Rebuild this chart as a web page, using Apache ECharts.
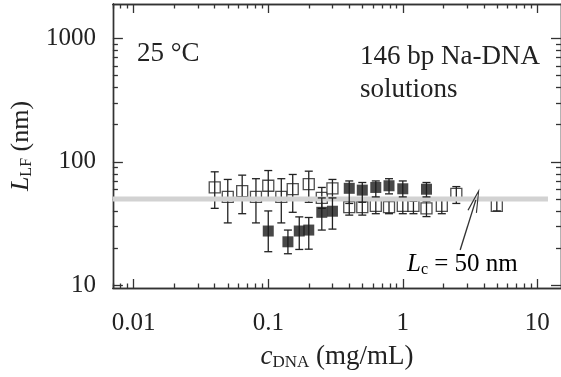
<!DOCTYPE html>
<html><head><meta charset="utf-8">
<script src="https://cdn.jsdelivr.net/npm/echarts@6/dist/echarts.min.js"></script>
<style>html,body{margin:0;padding:0;background:#fff}#c{width:561px;height:377px}</style>
</head><body><div id="c"></div>
<script>
// ---- data ----
const openX  = [0.040, 0.050, 0.064, 0.081, 0.10, 0.125, 0.152, 0.20, 0.25, 0.30, 0.40, 0.50, 0.63, 0.79, 1.0, 1.2, 1.5, 1.95, 2.5, 5.0];
const openY  = [62, 52, 58, 52, 64, 52, 60, 66, 51, 61, 43, 43, 44, 43, 44, 44, 42, 44, 55, 44];
const openLo = [42, 32, 38, 32, 50, 32, 39, 47, 42, 51, 37, 37, 38, 38, 38, 38, 36, 38, 46, 40];
const openHi = [83, 72, 78, 73, 85, 73, 79, 84, 62, 72, 50, 50, 50, 49, 50, 48, 48, 50, 63, 49];

const fillX  = [0.10, 0.14, 0.17, 0.20, 0.25, 0.30, 0.40, 0.50, 0.63, 0.79, 1.0, 1.5];
const fillY  = [27.5, 22.5, 27.5, 28, 39, 39.8, 61, 59, 62, 64, 60.5, 60];
const fillLo = [18.7, 18, 19.5, 19.6, 28, 28.5, 46, 47, 52, 55, 52, 52];
const fillHi = [40, 28, 35.8, 35.4, 51, 51, 70, 68, 70, 73, 70, 68];

const lcValue = 50;               // persistence length reference line (nm)
const lcLineX = [0.007, 12];      // extent of the grey reference line
const arrowFrom = [2.67, 19.3];   // annotation arrow (data space)
const arrowTo = [3.49, 49];

const xRange = [0.007, 15];
const yRange = [9.5, 1900];
const xMajorTicks = [0.01, 0.1, 1, 10];
const xTickLabels = ['0.01', '0.1', '1', '10'];
const xMinorTicks = [0.007, 0.008, 0.009, 0.02, 0.03, 0.04, 0.05, 0.06, 0.07, 0.08, 0.09,
  0.2, 0.3, 0.4, 0.5, 0.6, 0.7, 0.8, 0.9, 2, 3, 4, 5, 6, 7, 8, 9];
const yMajorTicks = [10, 100, 1000];
const yTickLabels = ['10', '100', '1000'];
const yMinorTicks = [20, 30, 40, 50, 60, 70, 80, 90, 200, 300, 400, 500, 600, 700, 800, 900];

// ---- chart ----
const FONT = 'Liberation Serif';
const INK = '#222';
function lookup(v, vals, labels) {
  for (let i = 0; i < vals.length; i++) if (Math.abs(v / vals[i] - 1) < 1e-6) return labels[i];
  return '';
}
function mkAxis(dim, pos, ticks, len, withLabels, extra) {
  const isX = dim === 'x';
  const range = isX ? xRange : yRange;
  return Object.assign({
    type: 'log', logBase: 10, min: range[0], max: range[1], position: pos,
    axisLine: { show: true, lineStyle: { color: '#333', width: 1.4 } },
    axisTick: { show: true, inside: true, length: len, customValues: ticks, lineStyle: { color: '#333', width: 1.3 } },
    axisLabel: withLabels ? {
      show: true, customValues: isX ? xMajorTicks : yMajorTicks,
      fontFamily: FONT, fontSize: 25, color: INK, margin: isX ? 23 : 17,
      formatter: v => isX ? lookup(v, xMajorTicks, xTickLabels) : lookup(v, yMajorTicks, yTickLabels)
    } : { show: false },
    splitLine: { show: false }, minorTick: { show: false }, minorSplitLine: { show: false }
  }, extra || {});
}

const chart = echarts.init(document.getElementById('c'), null, { renderer: 'canvas' });

function errRender(color) {
  return function (params, api) {
    const x = api.value(0);
    const a = api.coord([x, api.value(1)]);
    const b = api.coord([x, api.value(2)]);
    const w = 4;
    const st = { stroke: color, lineWidth: 1.3 };
    return {
      type: 'group', children: [
        { type: 'line', shape: { x1: a[0], y1: a[1], x2: b[0], y2: b[1] }, style: st },
        { type: 'line', shape: { x1: a[0] - w, y1: a[1], x2: a[0] + w, y2: a[1] }, style: st },
        { type: 'line', shape: { x1: b[0] - w, y1: b[1], x2: b[0] + w, y2: b[1] }, style: st }
      ]
    };
  };
}

const openErr = openX.map((x, i) => [x, openLo[i], openHi[i]]);
const fillErr = fillX.map((x, i) => [x, fillLo[i], fillHi[i]]);

chart.setOption({
  animation: false,
  backgroundColor: '#fff',
  grid: { left: 108, top: 4, width: 457, height: 284, containLabel: false },
  xAxis: [
    mkAxis('x', 'bottom', xMajorTicks, 9, true, {
      name: '{i|c}{s|DNA}{n| (mg/mL)}', nameLocation: 'middle', nameGap: 54,
      nameTextStyle: { rich: {
        i: { fontFamily: FONT, fontStyle: 'italic', fontSize: 27, color: INK },
        s: { fontFamily: FONT, fontSize: 17, color: INK, verticalAlign: 'bottom', padding: [12, 0, 0, 0] },
        n: { fontFamily: FONT, fontSize: 27, color: INK }
      } }
    }),
    mkAxis('x', 'bottom', xMinorTicks, 4.5, false),
    mkAxis('x', 'top', xMajorTicks, 9, false),
    mkAxis('x', 'top', xMinorTicks, 4.5, false)
  ],
  yAxis: [
    mkAxis('y', 'left', yMajorTicks, 10, true, {
      name: '{i|L}{s|LF}{n| (nm)}', nameLocation: 'middle', nameGap: 74, nameRotate: 90,
      nameTextStyle: { rich: {
        i: { fontFamily: FONT, fontStyle: 'italic', fontSize: 26, color: INK },
        s: { fontFamily: FONT, fontSize: 16, color: INK, verticalAlign: 'bottom', padding: [12, 0, 0, 0] },
        n: { fontFamily: FONT, fontSize: 26, color: INK }
      } }
    }),
    mkAxis('y', 'left', yMinorTicks, 5, false),
    mkAxis('y', 'right', yMajorTicks, 10, false),
    mkAxis('y', 'right', yMinorTicks, 5, false)
  ],
  series: [
    {
      type: 'scatter', name: 'open', data: openX.map((x, i) => [x, openY[i]]),
      symbol: 'rect', symbolSize: 11, z: 2,
      itemStyle: { color: '#fff', borderColor: INK, borderWidth: 1.3 }
    },
    {
      type: 'custom', name: 'openErr', data: openErr, z: 3,
      renderItem: errRender(INK)
    },
    {
      type: 'line', name: 'Lc', data: lcLineX.map(x => [x, lcValue]), symbol: 'none', z: 4,
      lineStyle: { color: '#d2d2d2', width: 5 },
      markLine: {
        silent: true, symbol: ['none', 'path://M5,0 L10,24 L8.8,24 L5,5 L1.2,24 L0,24 Z'],
        symbolSize: [10, 24], symbolKeepAspect: false,
        label: { show: false },
        lineStyle: { color: '#333', width: 1.3, type: 'solid' },
        data: [[{ coord: arrowFrom }, { coord: arrowTo }]]
      }
    },
    {
      type: 'custom', name: 'fillErr', data: fillErr, z: 5,
      renderItem: errRender(INK)
    },
    {
      type: 'scatter', name: 'filled', data: fillX.map((x, i) => [x, fillY[i]]),
      symbol: 'rect', symbolSize: 11, z: 6,
      itemStyle: { color: '#1a1a1a' }
    }
  ],
  graphic: [
    { type: 'text', left: 137, top: 40, style: { text: '25 °C', font: '27px "Liberation Serif"', fill: INK } },
    { type: 'text', left: 360, top: 40, style: { text: '146 bp Na-DNA\nsolutions', font: '27px "Liberation Serif"', fill: INK, lineHeight: 33 } },
    { type: 'text', left: 407, top: 252, style: {
      text: '{i|L}{s|c}{n| = 50 nm}',
      rich: {
        i: { fontFamily: FONT, fontStyle: 'italic', fontSize: 25, color: INK },
        s: { fontFamily: FONT, fontSize: 16, color: INK, verticalAlign: 'bottom', padding: [10, 0, 0, 0] },
        n: { fontFamily: FONT, fontSize: 25, color: INK }
      }
    } }
  ]
});
</script>
</body></html>
